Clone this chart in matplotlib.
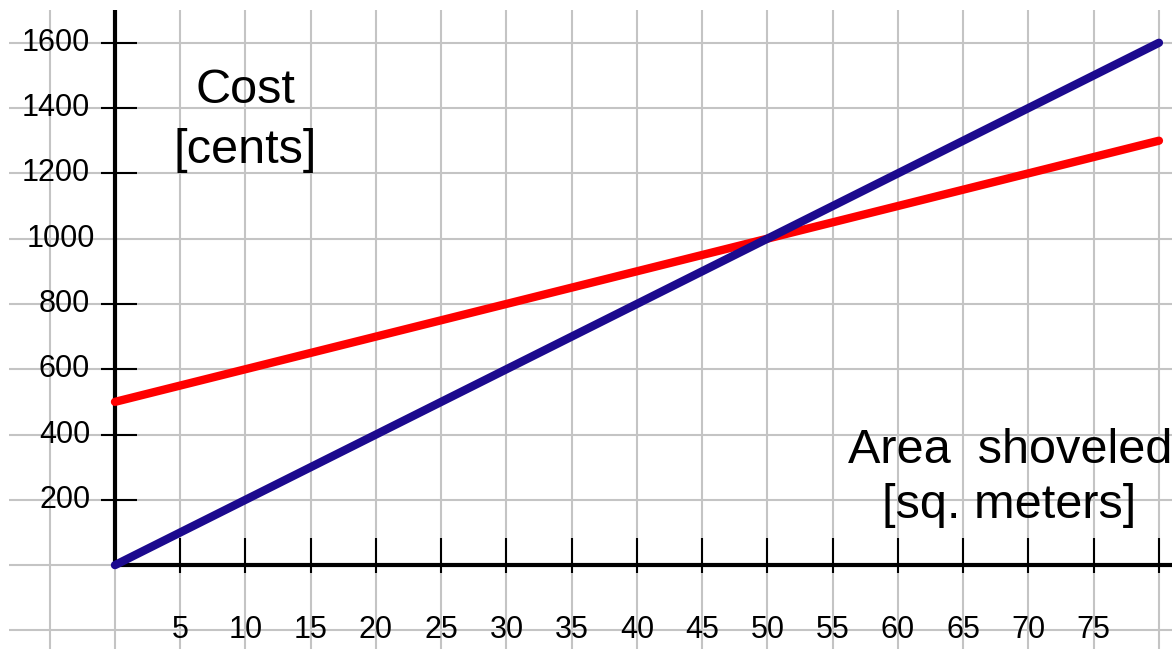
import numpy as np
import matplotlib.pyplot as plt

# donnees
area = [0, 80]
cost_blue = [0, 1600]
cost_red = [500, 1300]
y_ticks = [200, 400, 600, 800, 1000, 1200, 1400, 1600]
y_tick_marks = [200, 400, 600, 800, 1200, 1400, 1600]
x_ticks = list(range(5, 85, 5))
x_labels = [str(v) for v in range(5, 80, 5)]

plt.rcParams['font.family'] = ['Liberation Sans', 'DejaVu Sans']

fig = plt.figure(figsize=(11.72, 6.49), dpi=100)
ax = fig.add_axes([0, 0, 1, 1])
ax.set_xlim(-8.81, 81.0)
ax.set_ylim(-257, 1731)
ax.axis('off')

# grille
ytop = 1700
xleft = -8.1
ax.vlines(np.arange(-5, 85, 5), -257, ytop, color='#c4c4c4', lw=1.5, zorder=1)
ax.hlines(np.arange(-200, 1700, 200), xleft, 81.0, color='#c4c4c4', lw=1.5, zorder=1)

# axes
ax.plot([0, 0], [0, ytop], color='black', lw=3, zorder=3, solid_capstyle='butt')
ax.plot([0, 81.0], [0, 0], color='black', lw=3, zorder=3, solid_capstyle='butt')

# graduations
ax.hlines(y_tick_marks, -1.1, 1.7, color='black', lw=1.5, zorder=3)
ax.vlines(x_ticks, -25, 83, color='black', lw=1.5, zorder=3)

for v in y_ticks:
    xr = -1.5 if v == 1000 else -1.9
    ax.text(xr, v, str(v), ha='right', va='center', fontsize=22, zorder=4)
for v in x_labels:
    ax.text(int(v), -200, v, ha='center', va='center', fontsize=22, zorder=4)

# droites
ax.plot(area, cost_red, color='#ff0000', lw=6, solid_capstyle='round', zorder=5)
ax.plot(area, cost_blue, color='#1c0a8e', lw=6, solid_capstyle='round', zorder=6)

ax.text(10.0, 1455, 'Cost', ha='center', va='center', fontsize=35, zorder=4)
ax.text(10.0, 1271, '[cents]', ha='center', va='center', fontsize=35, zorder=4)
ax.text(68.6, 352, 'Area  shoveled', ha='center', va='center', fontsize=35, zorder=4)
ax.text(68.5, 184, '[sq. meters]', ha='center', va='center', fontsize=35, zorder=4)

fig.savefig('out.png', dpi=100)
